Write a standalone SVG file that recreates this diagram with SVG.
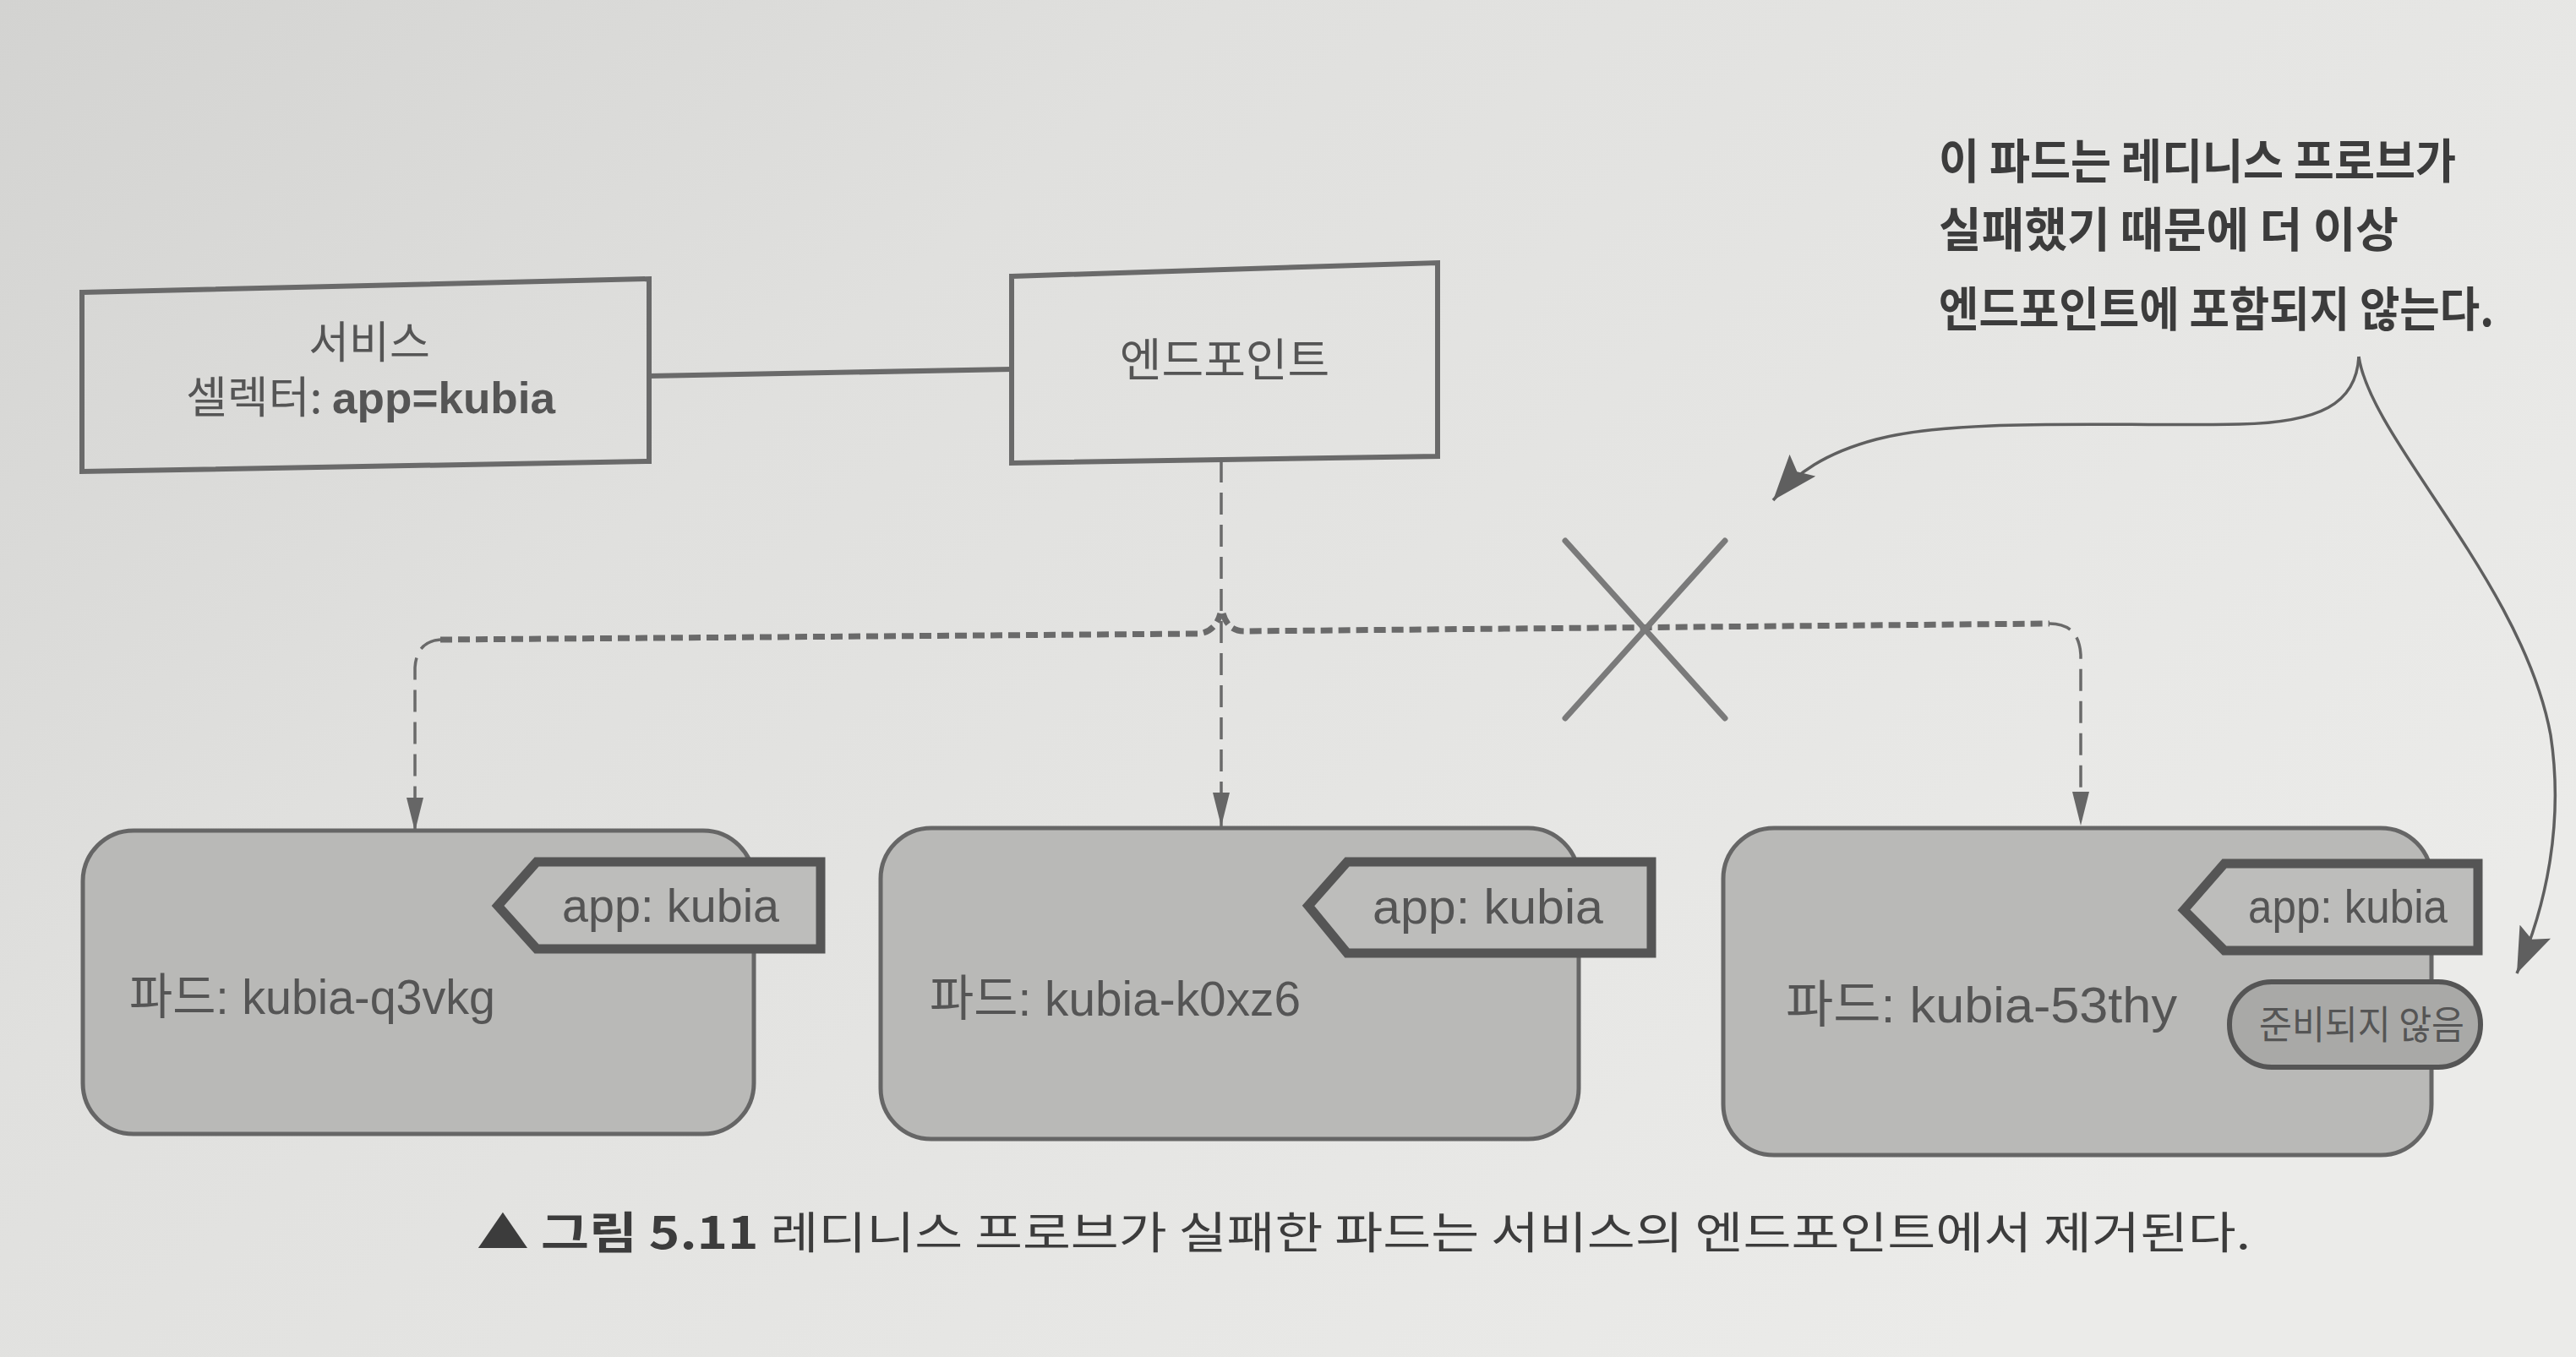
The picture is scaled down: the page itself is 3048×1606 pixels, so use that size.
<svg xmlns="http://www.w3.org/2000/svg" width="3048" height="1606" viewBox="0 0 3048 1606">
  <defs>
    <linearGradient id="paper" x1="0" y1="0" x2="1" y2="0.6">
      <stop offset="0" stop-color="#d3d3d1"/>
      <stop offset="0.35" stop-color="#e0e0de"/>
      <stop offset="1" stop-color="#ebebe9"/>
    </linearGradient>
    <marker id="ah" viewBox="0 0 40 22" refX="40" refY="11" markerWidth="40" markerHeight="22" markerUnits="userSpaceOnUse" orient="auto">
      <path d="M0,1 L40,11 L0,21 z" fill="#666"/>
    </marker>
    <marker id="ahBig" viewBox="0 0 54 40" refX="54" refY="20" markerWidth="54" markerHeight="40" markerUnits="userSpaceOnUse" orient="auto">
      <path d="M0,0 L54,20 L0,40 L10,20 z" fill="#5f5f5f"/>
    </marker>
    <style>
      .box { fill: none; stroke: #6a6a6a; stroke-width: 6; }
      .pod { fill: #b9b9b7; stroke: #666; stroke-width: 5; }
      .tag { fill: #bdbdbb; stroke: #555; stroke-width: 11; stroke-linejoin: miter; }
      .pill { fill: #a9a9a7; stroke: #555; stroke-width: 6; }
      .t { font-family: "Liberation Sans", "Noto Sans CJK KR", sans-serif; fill: #555; }
      .k { font-family: "Noto Sans CJK KR", "Liberation Sans", sans-serif; fill: #555; }
      .note { font-family: "Noto Sans CJK KR", "Liberation Sans", sans-serif; font-weight: 700; fill: #3c3c3c; font-size: 56px; }
      .cap { font-family: "Noto Sans CJK KR", "Liberation Sans", sans-serif; fill: #3c3c3c; font-size: 52px; }
      .solid { fill: none; stroke: #6a6a6a; stroke-width: 6; }
      .vdash { fill: none; stroke: #6a6a6a; stroke-width: 3.5; stroke-dasharray: 26 12; }
      .hdash { fill: none; stroke: #6a6a6a; stroke-width: 7; stroke-dasharray: 14 7; }
      .cross { stroke: #7a7a7a; stroke-width: 7; stroke-linecap: round; }
      .curve { fill: none; stroke: #5f5f5f; stroke-width: 3.5; }
    </style>
  </defs>

  <rect x="0" y="0" width="3048" height="1606" fill="url(#paper)"/>

  <g id="connectors">
    <path class="solid" d="M768,445 L1197,437"/>
    <path class="vdash" d="M1445,545 L1445,978" marker-end="url(#ah)"/>
    <path class="hdash" d="M521,757 L1418,750 Q1438,748 1444,726"/>
    <path class="hdash" d="M1447,726 Q1453,747 1472,747 L2425,738"/>
    <path class="vdash" d="M521,757 Q493,759 491,790 L491,984" marker-end="url(#ah)"/>
    <path class="vdash" d="M2425,738 Q2460,738 2462,775 L2462,977" marker-end="url(#ah)"/>
    <line class="cross" x1="1852" y1="640" x2="2041" y2="850"/>
    <line class="cross" x1="2041" y1="640" x2="1852" y2="850"/>
    <path class="curve" d="M2791,422 C2788,478 2745,500 2650,502 C2500,505 2320,494 2220,520 C2160,536 2125,560 2098,592" marker-end="url(#ahBig)"/>
    <path class="curve" d="M2791,422 C2805,520 2985,690 3018,870 C3034,975 3012,1075 2978,1152" marker-end="url(#ahBig)"/>
  </g>

  <g id="service">
    <polygon class="box" points="97,346 768,330 768,546 97,558"/>
    <text class="k" x="437" y="424" font-size="52" text-anchor="middle">서비스</text>
    <text class="k" x="220" y="489" font-size="52" textLength="437" lengthAdjust="spacingAndGlyphs">셀렉터: <tspan font-family="'Liberation Sans', sans-serif" font-weight="700">app=kubia</tspan></text>
  </g>

  <g id="endpoints">
    <polygon class="box" points="1197,327 1701,311 1701,540 1197,548"/>
    <text class="k" x="1449" y="446" font-size="54" text-anchor="middle">엔드포인트</text>
  </g>

  <g id="pod1">
    <rect class="pod" x="98" y="983" width="794" height="359" rx="60" ry="60"/>
    <polygon class="tag" points="589,1072 635,1020 971,1020 971,1123 635,1123"/>
    <text class="t" x="665" y="1091" font-size="56" textLength="257" lengthAdjust="spacingAndGlyphs">app: kubia</text>
    <text class="t" x="153" y="1200" font-size="58" textLength="433" lengthAdjust="spacingAndGlyphs">파드: kubia-q3vkg</text>
  </g>

  <g id="pod2">
    <rect class="pod" x="1042" y="980" width="826" height="368" rx="60" ry="60"/>
    <polygon class="tag" points="1548,1072 1594,1020 1954,1020 1954,1128 1594,1128"/>
    <text class="t" x="1624" y="1093" font-size="58" textLength="273" lengthAdjust="spacingAndGlyphs">app: kubia</text>
    <text class="t" x="1100" y="1202" font-size="58" textLength="439" lengthAdjust="spacingAndGlyphs">파드: kubia-k0xz6</text>
  </g>

  <g id="pod3">
    <rect class="pod" x="2039" y="980" width="838" height="387" rx="60" ry="60"/>
    <polygon class="tag" points="2584,1077 2632,1022 2932,1022 2932,1125 2632,1125"/>
    <text class="t" x="2660" y="1092" font-size="56" textLength="236" lengthAdjust="spacingAndGlyphs">app: kubia</text>
    <text class="t" x="2113" y="1210" font-size="60" textLength="463" lengthAdjust="spacingAndGlyphs">파드: kubia-53thy</text>
    <rect class="pill" x="2638" y="1162" width="297" height="101" rx="50" ry="50"/>
    <text class="k" x="2673" y="1229" font-size="46" textLength="243" lengthAdjust="spacingAndGlyphs">준비되지 않음</text>
  </g>

  <g id="note">
    <text class="note" x="2294" y="211" textLength="612" lengthAdjust="spacingAndGlyphs">이 파드는 레디니스 프로브가</text>
    <text class="note" x="2294" y="292" textLength="544" lengthAdjust="spacingAndGlyphs">실패했기 때문에 더 이상</text>
    <text class="note" x="2294" y="386" textLength="657" lengthAdjust="spacingAndGlyphs">엔드포인트에 포함되지 않는다.</text>
  </g>

  <g id="caption">
    <text class="cap" x="564" y="1478" textLength="2099" lengthAdjust="spacingAndGlyphs"><tspan font-weight="700">▲ 그림 5.11</tspan> 레디니스 프로브가 실패한 파드는 서비스의 엔드포인트에서 제거된다.</text>
  </g>
</svg>
